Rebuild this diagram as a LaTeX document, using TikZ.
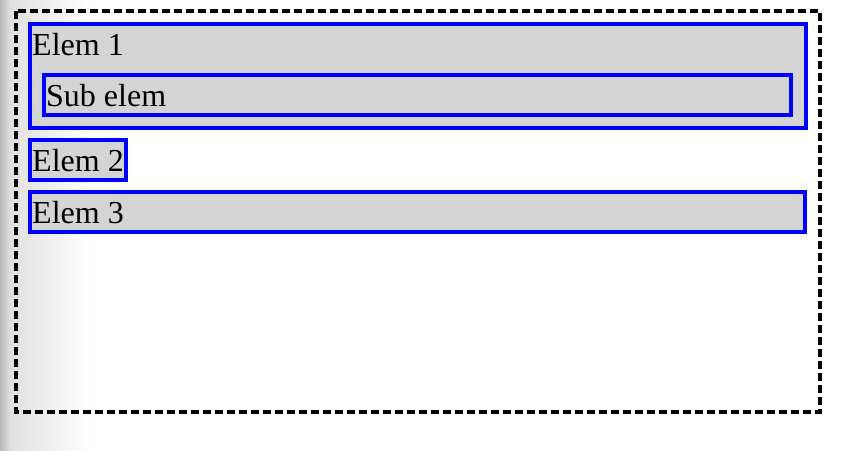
\documentclass[tikz,border=0pt]{standalone}
\usepackage{fontspec}
\setmainfont{Liberation Serif}
\usetikzlibrary{positioning}

\begin{document}
\begin{tikzpicture}[
    x=1pt, y=-1pt, % one unit per pixel, y going down
    elembox/.style={draw=blue, line width=4pt, fill=black!17, inner sep=0pt, outer sep=0pt, anchor=north west},
    lbl/.style={inner sep=0pt, anchor=base west, font=\fontsize{32}{36}\selectfont}
]
    \useasboundingbox (0,0) rectangle (856,450);

    % Shadow on the left edge
    \shade[left color=black!28, right color=black!12] (0,0) rectangle (10,450);
    \shade[left color=black!12, right color=white] (10,0) rectangle (92,450);

    % Outer container
    \draw[line width=4pt, dash pattern=on 8pt off 4pt] (16,11) rectangle (820,412);

    % Elem 1 with its sub element
    \node[elembox, minimum width=776pt, minimum height=104pt] (elem1) at (30,24) {};
    \node[lbl] (elem1lbl) at (32,55) {Elem 1};
    \node[elembox, minimum width=747pt, minimum height=40pt] (sub) at (44,75) {};
    \node[lbl] (sublbl) at (46,106) {Sub elem};

    % Elem 2, only as wide as its text
    \node[elembox, minimum width=96pt, minimum height=40pt] (elem2) at (30,140) {};
    \node[lbl] (elem2lbl) at (32,171) {Elem 2};

    % Elem 3
    \node[elembox, minimum width=775pt, minimum height=40pt] (elem3) at (30,192) {};
    \node[lbl] (elem3lbl) at (32,223) {Elem 3};

\end{tikzpicture}
\end{document}
